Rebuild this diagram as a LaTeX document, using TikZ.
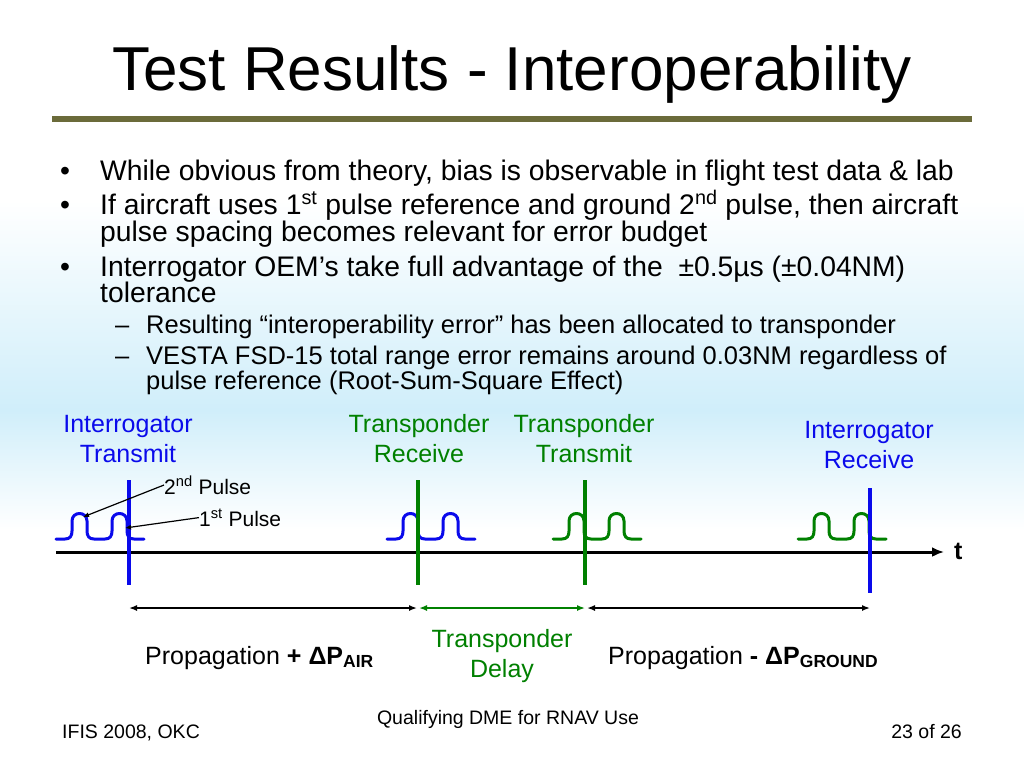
\documentclass[tikz,border=0pt]{standalone}
\usepackage{fontspec}
\setmainfont{Liberation Sans}
\usepackage{tikz}
\usepackage{xcolor}
\usetikzlibrary{arrows.meta}
\definecolor{itblue}{RGB}{10,10,235}
\definecolor{tpgreen}{RGB}{0,128,0}
\definecolor{ruleolive}{RGB}{107,107,58}
\definecolor{skyblue}{RGB}{208,238,250}

\begin{document}
\begin{tikzpicture}[x=1pt,y=-1pt,
		txt/.style={inner sep=0pt,anchor=base west},
		body/.style={txt,font=\fontsize{28.3}{27}\selectfont},
		sub/.style={txt,font=\fontsize{25.5}{27}\selectfont},
		lbl/.style={inner sep=0pt,anchor=base,align=center,font=\fontsize{25}{30}\selectfont},
		small/.style={txt,font=\fontsize{21}{25}\selectfont},
		foot/.style={inner sep=0pt,anchor=base,font=\fontsize{19.5}{23}\selectfont},
		pulse/.style={line width=3pt,line cap=round,line join=round},
		marker/.style={line width=4pt},
		ptr/.style={line width=1.2pt,-{Latex[length=6pt,width=5pt]}},
		dim/.style={line width=1.5pt,{Latex[length=8pt,width=6pt]}-{Latex[length=8pt,width=6pt]}}]
			\useasboundingbox (0,0) rectangle (1024,768);
			% background
			\fill[white] (0,0) rectangle (1024,768);
			\shade[top color=white,bottom color=skyblue] (0,200) rectangle (1024,410);
			\shade[top color=skyblue,bottom color=white] (0,410) rectangle (1024,530);
			% title
			\node[inner sep=0pt,anchor=base,font=\fontsize{62}{70}\selectfont] (title) at (512,90) {Test Results - Interoperability};
			\fill[ruleolive] (52,116) rectangle (972,122);
			% bullets
			\node[body] (b1dot) at (60,180) {•};
			\node[body] (b1) at (100,180) {While obvious from theory, bias is observable in flight test data \& lab};
			\node[body] (b2dot) at (60,214) {•};
			\node[body] (b2) at (100,214) {If aircraft uses 1\textsuperscript{st} pulse reference and ground 2\textsuperscript{nd} pulse, then aircraft};
			\node[body] (b2b) at (100,241) {pulse spacing becomes relevant for error budget};
			\node[body] (b3dot) at (60,276) {•};
			\node[body] (b3) at (100,276) {Interrogator OEM’s take full advantage of the~ ±0.5µs (±0.04NM)};
			\node[body] (b3b) at (100,302) {tolerance};
			\node[sub] (s1dash) at (115,333) {–};
			\node[sub] (s1) at (146,333) {Resulting “interoperability error” has been allocated to transponder};
			\node[sub] (s2dash) at (115,364) {–};
			\node[sub] (s2) at (146,364) {VESTA FSD-15 total range error remains around 0.03NM regardless of};
			\node[sub] (s2b) at (146,389) {pulse reference (Root-Sum-Square Effect)};
			% event labels (base = last line)
			\node[lbl,itblue] (itx) at (128,462) {Interrogator\\Transmit};
			\node[lbl,tpgreen] (tpr) at (419,462) {Transponder\\Receive};
			\node[lbl,tpgreen] (tpt) at (584,462) {Transponder\\Transmit};
			\node[lbl,itblue] (irx) at (869,468) {Interrogator\\Receive};
			% pulse pairs
			\foreach \x/\c in {56/itblue,387/itblue,553/tpgreen,798/tpgreen}
				\draw[pulse,\c] (\x,539) -- (\x+9,539)
					.. controls (\x+14,539) and (\x+16,536) .. (\x+16,531) -- (\x+16,521)
					.. controls (\x+16,511) and (\x+31,511) .. (\x+31,521) -- (\x+31,531)
					.. controls (\x+31,536) and (\x+33,539) .. (\x+38,539) -- (\x+49,539)
					.. controls (\x+54,539) and (\x+56,536) .. (\x+56,531) -- (\x+56,521)
					.. controls (\x+56,511) and (\x+71,511) .. (\x+71,521) -- (\x+71,531)
					.. controls (\x+71,536) and (\x+73,539) .. (\x+78,539) -- (\x+88,539);
			% time axis
			\coordinate (axL) at (56,552);
			\coordinate (axR) at (944,552);
			\draw[line width=3pt,-{Latex[length=12pt,width=10pt]}] (axL) -- (axR);
			\node[txt,font=\fontsize{25}{30}\selectfont\bfseries] (t) at (954,559) {t};
			% event markers
			\coordinate (itT) at (129,480);
			\coordinate (itB) at (129,585);
			\coordinate (tprT) at (418,480);
			\coordinate (tprB) at (418,585);
			\coordinate (tptT) at (585,480);
			\coordinate (tptB) at (585,585);
			\coordinate (irxT) at (870,488);
			\coordinate (irxB) at (870,593);
			\draw[marker,itblue] (itT) -- (itB);
			\draw[marker,tpgreen] (tprT) -- (tprB);
			\draw[marker,tpgreen] (tptT) -- (tptB);
			\draw[marker,itblue] (irxT) -- (irxB);
			% pulse callouts
			\node[small] (p2) at (164,494) {2\textsuperscript{nd} Pulse};
			\node[small] (p1) at (199,526) {1\textsuperscript{st} Pulse};
			\coordinate (p2tip) at (83,517);
			\coordinate (p1tip) at (125,528);
			\draw[ptr] (p2.west) -- (p2tip);
			\draw[ptr] (p1.west) -- (p1tip);
			% intervals
			\coordinate (d1) at (129,608);
			\coordinate (d2) at (417,608);
			\coordinate (d3) at (419,608);
			\coordinate (d4) at (585,608);
			\coordinate (d5) at (587,608);
			\coordinate (d6) at (870,608);
			\draw[dim] (d1) -- (d2);
			\draw[dim,tpgreen] (d3) -- (d4);
			\draw[dim] (d5) -- (d6);
			\node[txt,font=\fontsize{25}{30}\selectfont] (propair) at (145,664) {Propagation \textbf{+ ΔP\textsubscript{AIR}}};
			\node[lbl,tpgreen] (delay) at (502,677) {Transponder\\Delay};
			\node[txt,font=\fontsize{25}{30}\selectfont] (propgnd) at (608,664) {Propagation \textbf{- ΔP\textsubscript{GROUND}}};
			% footer
			\node[foot,anchor=base west] (foot1) at (62,738) {IFIS 2008, OKC};
			\node[foot] (foot2) at (508,724) {Qualifying DME for RNAV Use};
			\node[foot,anchor=base east] (foot3) at (962,738) {23 of 26};
		\end{tikzpicture}
\end{document}
